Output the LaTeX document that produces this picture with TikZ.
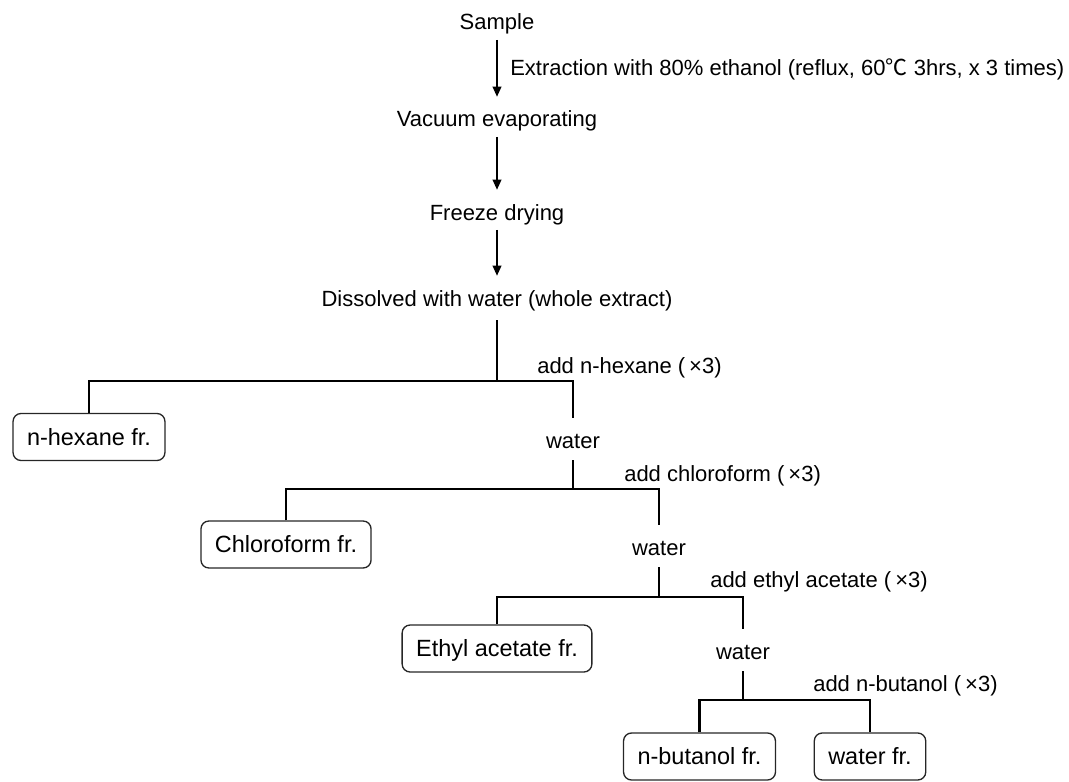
\documentclass[tikz,border=0pt]{standalone}
\usepackage{fontspec}
\setmainfont{Liberation Sans}
\newfontfamily\cjkfont{Noto Sans CJK SC}
\usetikzlibrary{arrows.meta}
\begin{document}
\begin{tikzpicture}[x=0.75pt,y=-0.75pt,
  lbl/.style={font=\fontsize{16.5pt}{19pt}\selectfont, inner sep=0pt, text height=12pt, text depth=3.5pt, anchor=base},
  note/.style={font=\fontsize{16.5pt}{19pt}\selectfont, inner sep=0pt, text height=12pt, text depth=3.5pt, anchor=base west},
  fbox/.style={draw=black!85, line width=1pt, rounded corners=6pt, font=\fontsize{17.6pt}{20pt}\selectfont, inner xsep=10.5pt, inner ysep=0pt, minimum height=35.25pt, text height=12.5pt, text depth=0.5pt},
  arr/.style={line width=1.1pt, -{Triangle[length=7.5pt,width=6.5pt]}, shorten <=3.75pt, shorten >=10.5pt},
  tree/.style={line width=1.7pt}]
\useasboundingbox (0,0) rectangle (1069,781);

\node[lbl] (sample) at (497,30) {Sample};
\node[note] (extr) at (510,76) {Extraction with 80\% ethanol (reflux, 60{\cjkfont ℃} 3hrs, x 3 times)};
\node[lbl] (vac) at (497,127) {Vacuum evaporating};
\node[lbl] (frz) at (497,220) {Freeze drying};
\node[lbl] (dis) at (497,306) {Dissolved with water (whole extract)};

\coordinate (j1) at (497,381);
\node[fbox] (hex) at (89,437) {n-hexane fr.};
\node[lbl] (w1) at (573,448) {water};
\node[note] (a1) at (537,373) {add n-hexane (\kern3pt×3)};

\coordinate (j2) at (573,489);
\node[fbox] (chl) at (286,544.5) {Chloroform fr.};
\node[lbl] (w2) at (659,555) {water};
\node[note] (a2) at (624,481) {add chloroform (\kern3pt×3)};

\coordinate (j3) at (659,597);
\node[fbox] (eth) at (497,648.5) {Ethyl acetate fr.};
\node[lbl] (w3) at (743,659) {water};
\node[note] (a3) at (710,587) {add ethyl acetate (\kern3pt×3)};

\coordinate (j4) at (743,700);
\node[fbox] (but) at (699.5,756.5) {n-butanol fr.};
\node[fbox] (wfr) at (870,756.5) {water fr.};
\node[note] (a4) at (813,691) {add n-butanol (\kern3pt×3)};

\draw[arr] (sample.south) -- (vac.north);
\draw[arr] (vac.south) -- (frz.north);
\draw[arr] (frz.south) -- (dis.north);

\draw[tree, shorten <=7pt] (dis.south) -- (j1);
\draw[tree, shorten >=10.5pt] (hex.north) |- (j1) -| (w1.north);
\draw[tree, shorten <=5.5pt] (w1.south) -- (j2);
\draw[tree, shorten >=10.5pt] (chl.north) |- (j2) -| (w2.north);
\draw[tree, shorten <=5.5pt] (w2.south) -- (j3);
\draw[tree, shorten >=10.5pt] (eth.north) |- (j3) -| (w3.north);
\draw[tree, shorten <=5.5pt] (w3.south) -- (j4);
\draw[tree] (but.north) |- (j4) -| (wfr.north);
\end{tikzpicture}
\end{document}
